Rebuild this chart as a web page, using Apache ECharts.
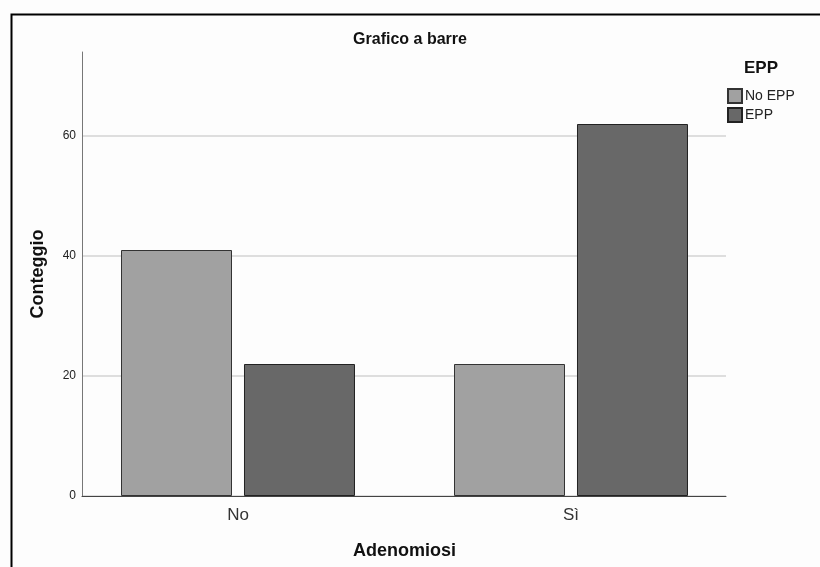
<!DOCTYPE html>
<html>
<head>
<meta charset="utf-8">
<script src="https://cdn.jsdelivr.net/npm/echarts@6/dist/echarts.min.js"></script>
<style>
html,body{margin:0;padding:0;background:#fdfdfd;}
#chart{width:820px;height:567px;}
</style>
</head>
<body>
<div id="chart"></div>
<script>
var categories = ['No', 'Sì'];
var seriesNames = ['No EPP', 'EPP'];
var noEPP = [41, 22];
var epp = [22, 62];
var yTicks = [0, 20, 40, 60];
var yMax = 74;

var FONT = '"Liberation Sans", Arial, sans-serif';
var chart = echarts.init(document.getElementById('chart'));

var option = {
  backgroundColor: '#fdfdfd',
  animation: false,
  textStyle: { fontFamily: FONT },
  graphic: [{
    type: 'rect', left: 9, top: 12,
    shape: { width: 900, height: 700 },
    style: { fill: 'none', stroke: '#000', lineWidth: 2 },
    silent: true
  }],
  title: [
    { text: 'Grafico a barre', left: 'center', top: 27,
      textStyle: { fontFamily: FONT, fontSize: 16, fontWeight: 'bold', color: '#111' } },
    { text: 'EPP', left: 739, top: 55,
      textStyle: { fontFamily: FONT, fontSize: 17, fontWeight: 'bold', color: '#111' } }
  ],
  legend: {
    orient: 'vertical', left: 722, top: 83,
    itemWidth: 14, itemHeight: 14, itemGap: 3,
    icon: 'rect',
    data: seriesNames,
    textStyle: { fontFamily: FONT, fontSize: 14, color: '#222', padding: [0, 0, 0, -2] }
  },
  grid: [
    { left: 71.5, right: 82.5, top: 52, bottom: 71 },
    { left: 82, right: 94, top: 52, bottom: 71 }
  ],
  xAxis: [
    { type: 'category', gridIndex: 0, data: categories,
      axisLine: { show: false }, axisTick: { show: false },
      axisLabel: { fontFamily: FONT, fontSize: 17, color: '#333', margin: 11 },
      name: 'Adenomiosi', nameLocation: 'middle', nameGap: 46,
      nameTextStyle: { fontFamily: FONT, fontSize: 18, fontWeight: 'bold', color: '#111' } },
    { type: 'category', gridIndex: 1, data: categories,
      axisLine: { show: true, lineStyle: { color: '#444', width: 1 } },
      axisTick: { show: false }, axisLabel: { show: false } }
  ],
  yAxis: [
    { type: 'value', gridIndex: 0, min: 0, max: yMax, show: false, splitLine: { show: false } },
    { type: 'value', gridIndex: 1, min: 0, max: yMax, interval: 20,
      axisLine: { show: true, lineStyle: { color: '#777', width: 1 } },
      axisTick: { show: false },
      axisLabel: { fontFamily: FONT, fontSize: 12, color: '#222', margin: 6, showMaxLabel: false,
        formatter: function (v) { return yTicks.indexOf(v) >= 0 ? String(v) : ''; } },
      splitLine: { show: true, showMaxLine: false, lineStyle: { color: '#d3d3d3', width: 1.5 } },
      name: 'Conteggio', nameLocation: 'middle', nameGap: 35,
      nameTextStyle: { fontFamily: FONT, fontSize: 18, fontWeight: 'bold', color: '#111' } }
  ],
  series: [
    { name: seriesNames[0], type: 'bar', xAxisIndex: 0, yAxisIndex: 0, data: noEPP,
      barWidth: 111, barGap: '10.8%',
      itemStyle: { color: '#a1a1a1', borderColor: '#333', borderWidth: 1 } },
    { name: seriesNames[1], type: 'bar', xAxisIndex: 0, yAxisIndex: 0, data: epp,
      barWidth: 111, barGap: '10.8%',
      itemStyle: { color: '#686868', borderColor: '#222', borderWidth: 1 } }
  ]
};
chart.setOption(option);
</script>
</body>
</html>
